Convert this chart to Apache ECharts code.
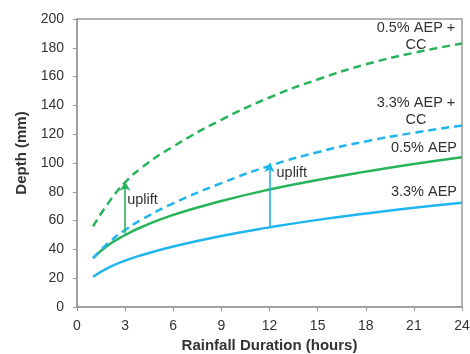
<!doctype html>
<html><head><meta charset="utf-8" />
<style>html,body,#app{margin:0;padding:0;width:470px;height:354px;background:#fff}</style>
</head><body><div id="app"></div>
<script src="https://cdn.jsdelivr.net/npm/echarts@6/dist/echarts.min.js"></script>
<script>
// durations (hours) and depths (mm)
const durations = [1, 2, 3, 4, 6, 9, 12, 15, 18, 21, 24];
const aep33   = [21, 27.5, 32.2, 35.9, 42, 49.3, 55.3, 60.5, 64.9, 68.9, 72.4];
const aep05   = [34, 43.4, 50, 55.4, 64, 73.6, 81.6, 88.2, 94, 99.3, 104];
const aep33cc = [34, 45, 53.5, 60.5, 72, 86, 98, 107.5, 115, 121, 126];
const aep05cc = [56, 73, 86.5, 96.5, 111.5, 130, 145.5, 158, 168.5, 176.5, 183];
const xTicks = [0, 3, 6, 9, 12, 15, 18, 21, 24];
const seriesNames = ['3.3% AEP', '0.5% AEP', '3.3% AEP +\nCC', '0.5% AEP +\nCC'];
// uplift arrows: [duration, from, to]
const greenArrow = [3, 51, 87];
const blueArrow = [12, 56, 100];

const GREEN = '#27b35a', BLUE = '#1fb5ef', TXT = '#333';
const FONT = 'Liberation Sans, Arial';

function pairs(ys){ return durations.map((d,i)=>[d, ys[i]]); }
function textMark(text, coord, offset, align){
  return { coord: coord, symbolSize: 0,
    label: { show: true, formatter: text, position: 'inside', align: align, verticalAlign: 'middle',
      offset: offset, color: TXT, fontSize: 14.5, fontFamily: FONT, lineHeight: 17 } };
}
function arrow(a, color){
  return { silent: true, symbol: ['none', 'arrow'], symbolSize: [8, 9], label: { show: false },
    lineStyle: { color: color, width: 1.6, type: 'solid' },
    data: [[{ coord: [a[0], a[1]] }, { coord: [a[0], a[2]] }]] };
}
function curve(name, ys, color, dashed, extra){
  return Object.assign({ name: name, type: 'line', data: pairs(ys), smooth: true,
    symbol: 'none', lineStyle: { color: color, width: 2.5, type: dashed ? [8, 5] : 'solid' } }, extra);
}

const chart = echarts.init(document.getElementById('app'));
chart.setOption({
  animation: false,
  backgroundColor: '#fff',
  grid: { left: 77, right: 8, top: 19, bottom: 47, outerBoundsMode: 'none', containLabel: false,
    show: true, borderColor: '#9a9a9a', borderWidth: 1.5 },
  xAxis: {
    type: 'value', min: 0, max: 24, interval: 3,
    name: 'Rainfall Duration (hours)', nameLocation: 'middle', nameGap: 30,
    nameTextStyle: { fontWeight: 'bold', fontSize: 15, color: TXT, fontFamily: FONT },
    axisLine: { lineStyle: { color: '#9a9a9a', width: 1.5 } },
    axisTick: { show: true, length: 4, lineStyle: { color: '#9a9a9a' } },
    axisLabel: { color: TXT, fontSize: 14, margin: 12, fontFamily: FONT,
      formatter: v => xTicks.includes(v) ? String(v) : '' },
    splitLine: { show: false }
  },
  yAxis: {
    type: 'value', min: 0, max: 200, interval: 20,
    name: 'Depth (mm)', nameLocation: 'middle', nameGap: 47,
    nameTextStyle: { fontWeight: 'bold', fontSize: 15, color: TXT, fontFamily: FONT, padding: [0, 0, 0, 20] },
    axisLine: { show: true, lineStyle: { color: '#9a9a9a', width: 1.5 } },
    axisTick: { show: true, length: 4, lineStyle: { color: '#9a9a9a' } },
    axisLabel: { color: TXT, fontSize: 14, margin: 13, fontFamily: FONT },
    splitLine: { show: false }
  },
  series: [
    curve(seriesNames[0], aep33, BLUE, false, {
      markLine: arrow(blueArrow, BLUE),
      markPoint: { data: [textMark(seriesNames[0], [24, 72], [-5, -11], 'right'),
                          textMark('uplift', [12, 93], [7, 0], 'left')] } }),
    curve(seriesNames[1], aep05, GREEN, false, {
      markLine: arrow(greenArrow, GREEN),
      markPoint: { data: [textMark(seriesNames[1], [24, 104], [-5, -9], 'right'),
                          textMark('uplift', [3, 74], [2, 0], 'left')] } }),
    curve(seriesNames[2], aep33cc, BLUE, true, {
      markPoint: { data: [textMark(seriesNames[2], [24, 126], [-46, -14], 'center')] } }),
    curve(seriesNames[3], aep05cc, GREEN, true, {
      markPoint: { data: [textMark(seriesNames[3], [24, 183], [-46, -7], 'center')] } })
  ]
});
</script></body></html>
